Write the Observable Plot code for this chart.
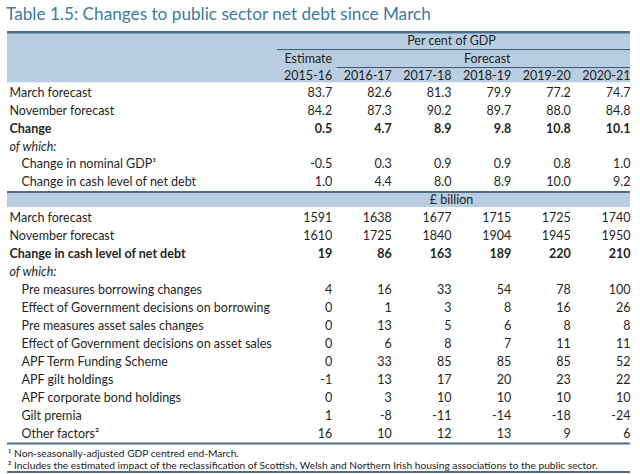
<!DOCTYPE html>
<html>
<head>
<meta charset="utf-8">
<script src="https://cdn.jsdelivr.net/npm/d3@7"></script>
<script src="https://cdn.jsdelivr.net/npm/@observablehq/plot@0.6"></script>
<style>
  html, body { margin: 0; padding: 0; background: #fff; }
  body { width: 640px; height: 474px; overflow: hidden; font-family: Lato, "Noto Sans", sans-serif; }
  #title { height: 28px; line-height: 28px; padding-left: 6px; font-size: 17.2px; color: #407a9c; white-space: nowrap; }
  #chart svg { display: block; }
  #notes { margin: 0 10px 0 7px; border-bottom: 2.5px solid #4d6e88; padding: 2px 0 0 1px; font-size: 10.2px; color: #222; line-height: 12px; white-space: nowrap; }
</style>
</head>
<body>
<div id="title">Table 1.5: Changes to public sector net debt since March</div>
<div id="chart"></div>
<div id="notes"></div>
<script>
// ---- data ----
const years = ["2015-16", "2016-17", "2017-18", "2018-19", "2019-20", "2020-21"];
const pctHeader = "Per cent of GDP";
const bnHeader = "£ billion";
const estimateLabel = "Estimate";
const forecastLabel = "Forecast";

const pctLabels = ["March forecast", "November forecast", "Change", "of which:", "Change in nominal GDP¹", "Change in cash level of net debt"];
const pctKinds  = ["plain", "plain", "bold", "italic", "indent", "indent"];
const pctValues = [
  [83.7, 82.6, 81.3, 79.9, 77.2, 74.7],
  [84.2, 87.3, 90.2, 89.7, 88.0, 84.8],
  [0.5, 4.7, 8.9, 9.8, 10.8, 10.1],
  null,
  [-0.5, 0.3, 0.9, 0.9, 0.8, 1.0],
  [1.0, 4.4, 8.0, 8.9, 10.0, 9.2]
];

const bnLabels = ["March forecast", "November forecast", "Change in cash level of net debt", "of which:",
  "Pre measures borrowing changes", "Effect of Government decisions on borrowing",
  "Pre measures asset sales changes", "Effect of Government decisions on asset sales",
  "APF Term Funding Scheme", "APF gilt holdings", "APF corporate bond holdings", "Gilt premia", "Other factors²"];
const bnKinds = ["plain", "plain", "bold", "italic", "indent", "indent", "indent", "indent", "indent", "indent", "indent", "indent", "indent"];
const bnValues = [
  [1591, 1638, 1677, 1715, 1725, 1740],
  [1610, 1725, 1840, 1904, 1945, 1950],
  [19, 86, 163, 189, 220, 210],
  null,
  [4, 16, 33, 54, 78, 100],
  [0, 1, 3, 8, 16, 26],
  [0, 13, 5, 6, 8, 8],
  [0, 6, 8, 7, 11, 11],
  [0, 33, 85, 85, 85, 52],
  [-1, 13, 17, 20, 23, 22],
  [0, 3, 10, 10, 10, 10],
  [1, -8, -11, -14, -18, -24],
  [16, 10, 12, 13, 9, 6]
];

const footnotes = [
  "¹ Non-seasonally-adjusted GDP centred end-March.",
  "² Includes the estimated impact of the reclassification of Scottish, Welsh and Northern Irish housing associations to the public sector."
];

// ---- table model (rows are indices) ----
const rows = [];   // label rows
const cells = [];  // number cells
let r = 3;
pctLabels.forEach((lab, i) => {
  rows.push({r, text: lab, kind: pctKinds[i]});
  if (pctValues[i]) pctValues[i].forEach((v, j) => cells.push({r, col: j + 1, text: v.toFixed(1), bold: pctKinds[i] === "bold"}));
  r++;
});
const bnRow = r; r++;
bnLabels.forEach((lab, i) => {
  rows.push({r, text: lab, kind: bnKinds[i]});
  if (bnValues[i]) bnValues[i].forEach((v, j) => cells.push({r, col: j + 1, text: String(v), bold: bnKinds[i] === "bold"}));
  r++;
});
const lastRow = r - 1;

const headMiddle = [
  {r: 0.15, col: 3, text: pctHeader},
  {r: 1.1, col: 3.6, text: forecastLabel},
  {r: bnRow, col: 3, text: bnHeader}
];
const headEnd = [
  {r: 1.1, col: 1, text: estimateLabel},
  ...years.map((y, j) => ({r: 2.05, col: j + 1, text: y}))
];

const bands = [{r1: -0.35, r2: 2.45}, {r1: bnRow - 0.47, r2: bnRow + 0.4}];
const darkRules = [{r: -0.37, w: 2.5}, {r: bnRow - 0.47, w: 2}, {r: lastRow + 0.55, w: 2}];
const thinRules = [{r: 0.6, x1: 0}, {r: 1.6, x1: 1}];

const ink = "#1f1f1f";
const dark = "#4d6e88";
const bandFill = "#b9cde0";
const fs = 12.5;

const plot = Plot.plot({
  width: 640,
  height: 417,
  marginLeft: 7,
  marginRight: 10,
  marginTop: 0,
  marginBottom: 0,
  x: {domain: [0, 6], range: [272, 630], axis: null},
  y: {domain: [0, 22], range: [10.3, 10.3 + 22 * 17.95], axis: null},
  style: {fontFamily: "Lato, 'Noto Sans', sans-serif", fontSize: fs + "px", color: ink, background: "white"},
  marks: [
    Plot.rect(bands, {y1: "r1", y2: "r2", fill: bandFill}),
    Plot.ruleY(darkRules, {y: "r", stroke: dark, strokeWidth: d => d.w}),
    Plot.ruleY(thinRules, {y: "r", x1: "x1", x2: 6, stroke: "#3a5a72", strokeWidth: 1, insetLeft: 5}),
    Plot.text(headMiddle, {x: "col", y: "r", text: "text", textAnchor: "middle", fill: ink, fontSize: fs}),
    Plot.text(headEnd, {x: "col", y: "r", text: "text", textAnchor: "end", fill: ink, fontSize: fs}),
    Plot.text(rows.filter(d => d.kind === "plain"), {frameAnchor: "left", y: "r", text: "text", textAnchor: "start", dx: 2, fill: ink, fontSize: fs}),
    Plot.text(rows.filter(d => d.kind === "bold"), {frameAnchor: "left", y: "r", text: "text", textAnchor: "start", dx: 2, fill: ink, fontSize: fs, fontWeight: "bold"}),
    Plot.text(rows.filter(d => d.kind === "italic"), {frameAnchor: "left", y: "r", text: "text", textAnchor: "start", dx: 2, fill: ink, fontSize: fs, fontStyle: "italic"}),
    Plot.text(rows.filter(d => d.kind === "indent"), {frameAnchor: "left", y: "r", text: "text", textAnchor: "start", dx: 14, fill: ink, fontSize: fs}),
    Plot.text(cells.filter(d => !d.bold), {x: "col", y: "r", text: "text", textAnchor: "end", fill: ink, fontSize: fs}),
    Plot.text(cells.filter(d => d.bold), {x: "col", y: "r", text: "text", textAnchor: "end", fill: ink, fontSize: fs, fontWeight: "bold"})
  ]
});
document.getElementById("chart").appendChild(plot);
document.getElementById("notes").innerHTML = footnotes.map(t => `<div>${t}</div>`).join("");
</script>
</body>
</html>
